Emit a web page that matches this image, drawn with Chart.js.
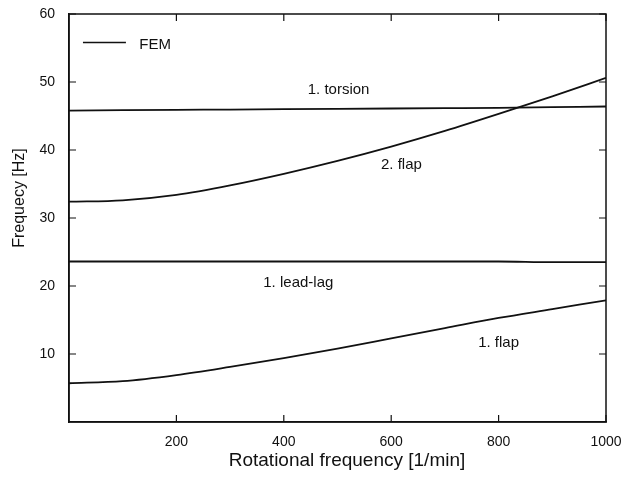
<!DOCTYPE html>
<html lang="en">
<head>
    <meta charset="UTF-8">
    <title>Frequency diagram</title>
    <script src="https://cdn.jsdelivr.net/npm/chart.js"></script>
    <style>
        html, body {
            margin: 0;
            padding: 0;
            background: #fff;
        }
        #wrap {
            width: 634px;
            height: 480px;
        }
    </style>
</head>
<body>
    <div id="wrap"><canvas id="freqChart" width="634" height="480"></canvas></div>

    <script>
        // rotational frequency [1/min]
        const rpm = [0, 100, 200, 300, 400, 500, 600, 700, 800, 900, 1000];
        // FEM eigenfrequencies [Hz]
        const flap1 = [5.7, 6.0, 6.9, 8.1, 9.4, 10.8, 12.3, 13.8, 15.3, 16.6, 17.9];
        const leadLag1 = [23.6, 23.6, 23.6, 23.6, 23.6, 23.6, 23.6, 23.6, 23.6, 23.5, 23.5];
        const flap2 = [32.4, 32.6, 33.4, 34.8, 36.5, 38.4, 40.5, 42.8, 45.3, 47.9, 50.6];
        const torsion1 = [45.8, 45.85, 45.9, 45.95, 46.0, 46.05, 46.1, 46.15, 46.2, 46.3, 46.4];

        const xTicks = [200, 400, 600, 800, 1000];
        const yTicks = [10, 20, 30, 40, 50, 60];

        // curve labels, placed in data coordinates
        const curveLabels = [
            { text: '1. torsion', x: 502, y: 48.8 },
            { text: '2. flap', x: 619, y: 37.8 },
            { text: '1. lead-lag', x: 427, y: 20.4 },
            { text: '1. flap', x: 800, y: 11.6 }
        ];

        const toPoints = arr => arr.map((v, i) => ({ x: rpm[i], y: v }));
        const font = '"Liberation Sans", Arial, Helvetica, sans-serif';
        const ink = '#111';

        const framePlugin = {
            id: 'frame',
            afterDatasetsDraw(chart) {
                const { ctx, chartArea: a, scales } = chart;
                const xs = scales.x, ys = scales.y;
                ctx.save();
                ctx.strokeStyle = ink;
                ctx.lineWidth = 1.5;
                ctx.strokeRect(a.left, a.top, a.right - a.left, a.bottom - a.top);

                // inward ticks on all four sides
                ctx.lineWidth = 1.2;
                const tl = 7;
                ctx.beginPath();
                xTicks.forEach(v => {
                    const px = xs.getPixelForValue(v);
                    ctx.moveTo(px, a.bottom); ctx.lineTo(px, a.bottom - tl);
                    ctx.moveTo(px, a.top); ctx.lineTo(px, a.top + tl);
                });
                yTicks.forEach(v => {
                    const py = ys.getPixelForValue(v);
                    ctx.moveTo(a.left, py); ctx.lineTo(a.left + tl, py);
                    ctx.moveTo(a.right, py); ctx.lineTo(a.right - tl, py);
                });
                ctx.stroke();

                // legend
                ctx.lineWidth = 1.5;
                ctx.beginPath();
                ctx.moveTo(xs.getPixelForValue(26), ys.getPixelForValue(55.8));
                ctx.lineTo(xs.getPixelForValue(106), ys.getPixelForValue(55.8));
                ctx.stroke();
                ctx.fillStyle = ink;
                ctx.font = '15px ' + font;
                ctx.textAlign = 'left';
                ctx.textBaseline = 'middle';
                ctx.fillText('FEM', xs.getPixelForValue(131), ys.getPixelForValue(55.4));

                // curve labels
                ctx.textAlign = 'center';
                curveLabels.forEach(l => {
                    ctx.fillText(l.text, xs.getPixelForValue(l.x), ys.getPixelForValue(l.y));
                });

                // axis titles
                ctx.font = '19px ' + font;
                ctx.fillText('Rotational frequency [1/min]', 347, 461);
                ctx.font = '16px ' + font;
                ctx.translate(20, 198);
                ctx.rotate(-Math.PI / 2);
                ctx.fillText('Frequecy [Hz]', 0, 0);
                ctx.restore();
            }
        };

        const lineStyle = {
            borderColor: ink,
            borderWidth: 1.8,
            pointRadius: 0,
            fill: false,
            cubicInterpolationMode: 'monotone'
        };

        const ctx = document.getElementById('freqChart').getContext('2d');
        const freqChart = new Chart(ctx, {
            type: 'line',
            data: {
                datasets: [
                    Object.assign({ label: '1. flap', data: toPoints(flap1) }, lineStyle),
                    Object.assign({ label: '1. lead-lag', data: toPoints(leadLag1) }, lineStyle),
                    Object.assign({ label: '2. flap', data: toPoints(flap2) }, lineStyle),
                    Object.assign({ label: '1. torsion', data: toPoints(torsion1) }, lineStyle)
                ]
            },
            options: {
                responsive: false,
                animation: false,
                layout: {
                    padding: { top: 14, right: 28, left: 0, bottom: 0 }
                },
                plugins: {
                    legend: { display: false },
                    tooltip: { enabled: false }
                },
                scales: {
                    x: {
                        type: 'linear',
                        min: 0,
                        max: 1000,
                        afterFit: s => {
                            s.height = 58;
                            s.paddingLeft = 0;
                            s.paddingRight = 0;
                        },
                        grid: { drawOnChartArea: false, drawTicks: false },
                        border: { color: ink, width: 1.5 },
                        ticks: {
                            stepSize: 200,
                            padding: 12,
                            color: ink,
                            font: { family: font, size: 14 },
                            maxRotation: 0,
                            callback: v => (v === 0 ? '' : v)
                        }
                    },
                    y: {
                        min: 0,
                        max: 60,
                        afterFit: s => {
                            s.width = 69;
                            s.paddingTop = 0;
                            s.paddingBottom = 0;
                        },
                        grid: { drawOnChartArea: false, drawTicks: false },
                        border: { color: ink, width: 1.5 },
                        ticks: {
                            stepSize: 10,
                            padding: 14,
                            color: ink,
                            font: { family: font, size: 14 },
                            callback: v => (v === 0 ? '' : v)
                        }
                    }
                }
            },
            plugins: [framePlugin]
        });
    </script>
</body>
</html>
